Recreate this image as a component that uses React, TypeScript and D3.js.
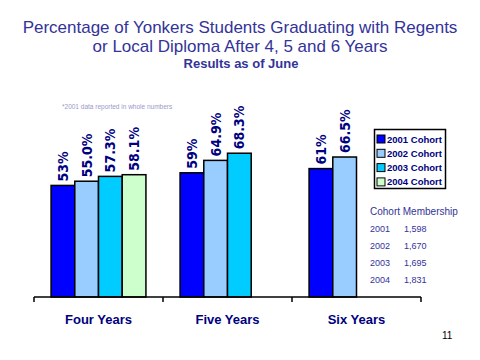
import { useMemo } from "react";
import * as d3 from "d3";

const W = 480;
const H = 360;

const categories = ["Four Years", "Five Years", "Six Years"];
const cohorts = ["2001 Cohort", "2002 Cohort", "2003 Cohort", "2004 Cohort"];
const cohort2001 = [53, 59, 61];
const cohort2002 = [55.0, 64.9, 66.5];
const cohort2003 = [57.3, 68.3, null];
const cohort2004 = [58.1, null, null];
const memberYears = ["2001", "2002", "2003", "2004"];
const memberCounts = [1598, 1670, 1695, 1831];

const colors = ["#0000ff", "#99ccff", "#00ccff", "#ccffcc"];
const navy = "#000080";
const titleBlue = "#333399";

const series = [cohort2001, cohort2002, cohort2003, cohort2004];

export default function App() {
  const x0 = useMemo(
    () => d3.scaleBand().domain(categories).range([34, 421]).padding(0),
    []
  );
  const x1 = useMemo(
    () =>
      d3
        .scaleBand()
        .domain(cohorts)
        .range([0, x0.bandwidth()])
        .paddingInner(0)
        .paddingOuter(0.72),
    [x0]
  );
  const y = useMemo(() => d3.scaleLinear().domain([0, 100]).range([297, 86.5]), []);

  const fmtWhole = d3.format(".0f");
  const fmtDec = d3.format(".1f");
  const fmtCount = d3.format(",");

  // boundaries between categories for tick marks
  const ticks = [...categories.map((c) => x0(c)!), x0.range()[1]];

  return (
    <svg
      width={W}
      height={H}
      style={{ position: "absolute", left: 0, top: 0, background: "#fff" }}
      fontFamily="Arial, 'Liberation Sans', sans-serif"
    >
      <text x={240} y={33} textAnchor="middle" fontSize={17} fill={titleBlue}>
        Percentage of Yonkers Students Graduating with Regents
      </text>
      <text x={240} y={52} textAnchor="middle" fontSize={17} fill={titleBlue}>
        or Local Diploma After 4, 5 and 6 Years
      </text>
      <text x={241} y={68} textAnchor="middle" fontSize={13} fontWeight="bold" fill={titleBlue}>
        Results as of June
      </text>

      <text x={62} y={109} fontSize={6.5} fill="#9999cc">
        *2001 data reported in whole numbers
      </text>

      {series.map((vals, si) =>
        vals.map((v, ci) => {
          if (v == null) return null;
          const bx = x0(categories[ci])! + x1(cohorts[si])!;
          const bw = x1.bandwidth();
          const top = y(v);
          const label = (si === 0 ? fmtWhole(v) : fmtDec(v)) + "%";
          const cx = bx + bw / 2;
          return (
            <g key={`${si}-${ci}`}>
              <rect
                x={bx}
                y={top}
                width={bw}
                height={y(0) - top}
                fill={colors[si]}
                stroke="#000"
                strokeWidth={1.5}
              />
              <text
                transform={`translate(${cx},${top - 4}) rotate(-90)`}
                dy="0.36em"
                fontFamily="'Liberation Sans Narrow', 'DejaVu Sans Condensed', 'Arial Narrow', sans-serif"
                fontStretch="condensed"
                fontWeight="bold"
                fontSize={14}
                fill={navy}
              >
                {label}
              </text>
            </g>
          );
        })
      )}

      <line x1={34} x2={421} y1={297} y2={297} stroke="#000" strokeWidth={1.5} />
      {ticks.map((t, i) => (
        <line key={i} x1={t} x2={t} y1={297} y2={302} stroke="#000" strokeWidth={1.5} />
      ))}
      {categories.map((c) => (
        <text
          key={c}
          x={x0(c)! + x0.bandwidth() / 2}
          y={323.5}
          textAnchor="middle"
          fontSize={13}
          fontWeight="bold"
          fill={navy}
        >
          {c}
        </text>
      ))}

      {/* legend */}
      <rect x={374.5} y={129.5} width={71} height={59} fill="#fff" stroke="#000" strokeWidth={1.5} />
      {cohorts.map((c, i) => {
        const cy = 139 + i * 14.3;
        return (
          <g key={c}>
            <rect x={377} y={cy - 4} width={8} height={8} fill={colors[i]} stroke="#000" strokeWidth={1} />
            <text x={387} y={cy + 3.5} fontSize={9.5} fontWeight="bold" fill={navy}>
              {c}
            </text>
          </g>
        );
      })}

      {/* cohort membership */}
      <text x={370} y={215} fontSize={10} fill={titleBlue}>
        Cohort Membership
      </text>
      {memberYears.map((yr, i) => (
        <g key={yr}>
          <text x={370} y={231.5 + i * 17} fontSize={9} fill={titleBlue}>
            {yr}
          </text>
          <text x={404} y={231.5 + i * 17} fontSize={9} fill={titleBlue}>
            {fmtCount(memberCounts[i])}
          </text>
        </g>
      ))}

      <text x={442} y={339} fontSize={10} fill="#000">
        11
      </text>
    </svg>
  );
}
